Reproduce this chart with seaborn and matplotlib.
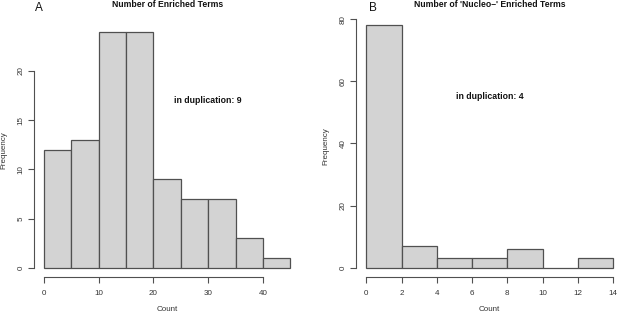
import numpy as np
import pandas as pd
import matplotlib
matplotlib.use("Agg")
import matplotlib.pyplot as plt
import seaborn as sns

sns.set_theme(style="white")
plt.rcParams['font.family'] = ['Liberation Sans', 'DejaVu Sans']

# Panel A: enriched terms, bins of width 5
a_edges = [0, 5, 10, 15, 20, 25, 30, 35, 40, 45]
a_counts = [12, 13, 24, 24, 9, 7, 7, 3, 1]
a_dup = 9

# Panel B: 'Nucleo-' enriched terms, bins of width 2
b_edges = [0, 2, 4, 6, 8, 10, 12, 14]
b_counts = [78, 7, 3, 3, 6, 0, 3]
b_dup = 4

TXT = '#333333'
LINE = '#505050'
W, H = 617, 312


def r_hist(ax, edges, counts, title, dup_xy, dup, xticks, yticks, letter, letter_x):
    e = np.array(edges, dtype=float)
    df = pd.DataFrame({'mid': (e[:-1] + e[1:]) / 2, 'n': counts})
    sns.histplot(data=df, x='mid', weights='n', bins=list(edges), ax=ax,
                 color='#d3d3d3', edgecolor=LINE, linewidth=0.9, alpha=1)
    lo, hi = edges[0], edges[-1]
    pad = 0.04 * (hi - lo)
    ymax = max(counts)
    ax.set_xlim(lo - pad, hi + pad)
    ax.set_ylim(-0.04 * ymax, ymax * 1.04)
    for s in ['top', 'right']:
        ax.spines[s].set_visible(False)
    ax.spines['left'].set_bounds(yticks[0], yticks[-1])
    ax.spines['bottom'].set_bounds(xticks[0], xticks[-1])
    for s in ['left', 'bottom']:
        ax.spines[s].set_color(LINE)
        ax.spines[s].set_linewidth(0.8)
    ax.set_xticks(xticks)
    ax.set_yticks(yticks)
    ax.tick_params(axis='both', direction='out', length=4, width=0.8,
                   color=LINE, labelsize=5.8, labelcolor=TXT,
                   left=True, bottom=True)
    ax.tick_params(axis='x', pad=5)
    ax.tick_params(axis='y', pad=3)
    plt.setp(ax.get_yticklabels(), rotation=90, va='center')

    # position everything in pixel units of the 617x312 canvas
    bb = ax.get_position()
    x0, x1 = bb.x0 * W, bb.x1 * W
    ytop, ybot = (1 - bb.y1) * H, (1 - bb.y0) * H
    ax.set_xlabel('Count', fontsize=5.8, color=TXT, va='center')
    ax.set_ylabel('Frequency', fontsize=5.8, color=TXT, va='center')
    ax.xaxis.set_label_coords(0.5, (ybot - 309.5) / (ybot - ytop))
    ax.yaxis.set_label_coords((letter_x[1] - x0) / (x1 - x0), 0.5)
    ax.set_title(title, fontsize=6.2, fontweight='bold', color='#111111',
                 pad=0, va='center', y=(ybot - 4.5) / (ybot - ytop))
    ax.text(dup_xy[0], dup_xy[1], f'in duplication: {dup}', fontsize=6.3,
            fontweight='bold', ha='center', va='center', color='#111111')
    ax.figure.text(letter_x[0] / W, 1 - 7.7 / H, letter, fontsize=8.5,
                   ha='center', va='center', color='#111111')


fig = plt.figure(figsize=(6.17, 3.12), dpi=100)
axA = fig.add_axes([34.1 / W, 1 - 277.1 / H, (300.2 - 34.1) / W, (277.1 - 22.3) / H])
axB = fig.add_axes([356.4 / W, 1 - 277.4 / H, (622.9 - 356.4) / W, (277.4 - 15.6) / H])

r_hist(axA, a_edges, a_counts, 'Number of Enriched Terms', (30, 17), a_dup,
       [0, 10, 20, 30, 40], [0, 5, 10, 15, 20], 'A', (38.7, 4.0))
r_hist(axB, b_edges, b_counts, "Number of 'Nucleo\u2013' Enriched Terms", (7, 55), b_dup,
       [0, 2, 4, 6, 8, 10, 12, 14], [0, 20, 40, 60, 80], 'B', (373.3, 326.0))

fig.savefig('out.png', dpi=100)
